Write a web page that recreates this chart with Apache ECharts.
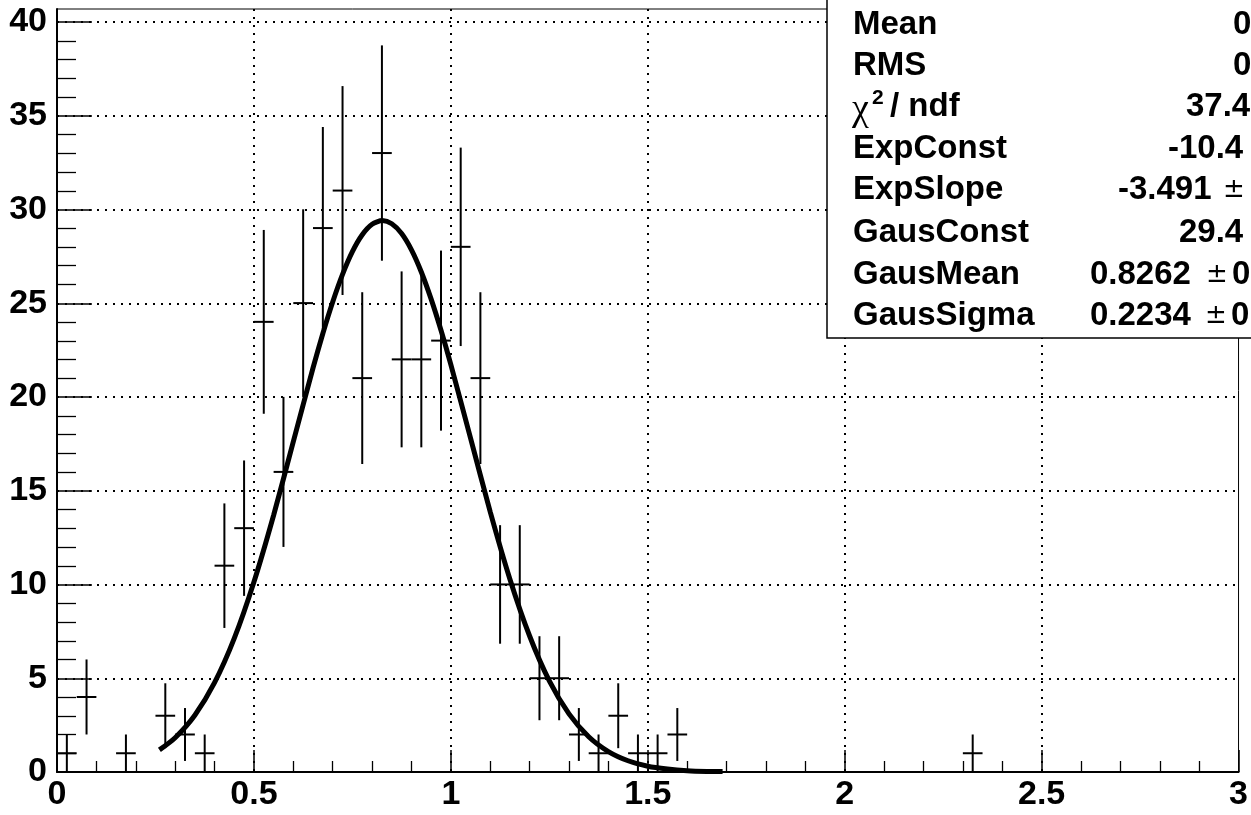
<!DOCTYPE html>
<html><head><meta charset="utf-8">
<script src="https://cdn.jsdelivr.net/npm/echarts@6/dist/echarts.min.js"></script>
<style>html,body{margin:0;padding:0;background:#fff;} #c{width:1251px;height:815px;}</style>
</head><body><div id="c"></div>
<script>
// ---- data ----
const binCenters = [0.025,0.075,0.175,0.275,0.325,0.375,0.425,0.475,0.525,0.575,0.625,0.675,0.725,0.775,0.825,0.875,0.925,0.975,1.025,1.075,1.125,1.175,1.225,1.275,1.325,1.375,1.425,1.475,1.525,1.575,2.325];
const counts = [1,4,1,3,2,1,11,13,24,16,25,29,31,21,33,22,22,23,28,21,10,10,5,5,2,1,3,1,1,2,1];
const errors = [1,2,1,1.73,1.41,1,3.32,3.61,4.90,4.00,5.00,5.39,5.57,4.58,5.74,4.69,4.69,4.80,5.29,4.58,3.16,3.16,2.24,2.24,1.41,1,1.73,1,1,1.41,1];
const halfBinWidth = 0.025;
const fitX = [0.26,0.30,0.35,0.40,0.45,0.50,0.55,0.60,0.65,0.675,0.70,0.725,0.75,0.775,0.80,0.8262,0.85,0.875,0.90,0.925,0.95,0.975,1.00,1.05,1.10,1.15,1.20,1.25,1.30,1.35,1.40,1.45,1.50,1.55,1.60,1.65,1.69];
const fitY = [1.18,1.83,3.03,4.76,7.12,10.13,13.69,17.61,21.54,23.38,25.06,26.53,27.74,28.64,29.20,29.40,29.23,28.71,27.84,26.66,25.21,23.55,21.72,17.80,13.87,10.28,7.25,4.86,3.10,1.88,1.09,0.60,0.31,0.16,0.07,0.03,0.02];
const xRange = [0, 3];
const xStep = 0.5;
const yFrameMax = 40.68;
const yTickMax = 40;
const yStep = 5;
const statsLabels = ['Mean','RMS','CHI','ExpConst','ExpSlope','GausConst','GausMean','GausSigma'];
const statsValues = ['0','0','37.4','-10.4','-3.491','29.4','0.8262','0.2234'];
const statsPlusMinus = ['','','','','\u00b1','','\u00b1','\u00b1'];
const statsTrail = ['','','','','','','0','0'];

// ---- layout ----
const L = 57, R = 10, B = 43, TOP = 9, TOP2 = 22;
const labelFont = {fontFamily:'"Liberation Sans", Arial, sans-serif', fontWeight:'bold', fontSize:34, color:'#000'};
const dotted = {color:'#000', type:[2,6], width:2};

const rowY = [25,66,107,149,190,233,275,316];
const valX = [1233,1233,1186,1168,1118,1179,1090,1090];
const pmX = [0,0,0,0,1223,0,1206,1205];
const trailX = [0,0,0,0,0,0,1232,1231];
const boldFont = 'bold 33px "Liberation Sans", Arial, sans-serif';

const graphics = [{
  type:'rect', z:100, shape:{x:827, y:-5, width:440, height:343},
  style:{fill:'#fff', stroke:'#000', lineWidth:1.5}
}];
statsLabels.forEach((lab,i)=>{
  if (lab === 'CHI') {
    graphics.push({type:'text', z:101, x:852, y:rowY[i]+3, style:{text:'\u03c7', font:'normal 38px "Liberation Serif", serif', fill:'#000', verticalAlign:'middle', align:'left'}});
    graphics.push({type:'text', z:101, x:872, y:rowY[i]-9, style:{text:'2', font:'bold 21px "Liberation Sans", Arial, sans-serif', fill:'#000', verticalAlign:'middle', align:'left'}});
    graphics.push({type:'text', z:101, x:890, y:rowY[i], style:{text:'/ ndf', font:boldFont, fill:'#000', verticalAlign:'middle', align:'left'}});
  } else {
    graphics.push({type:'text', z:101, x:853, y:rowY[i], style:{text:lab, font:boldFont, fill:'#000', verticalAlign:'middle', align:'left'}});
  }
  graphics.push({type:'text', z:101, x:valX[i], y:rowY[i], style:{text:statsValues[i], font:boldFont, fill:'#000', verticalAlign:'middle', align:'left'}});
  if (statsPlusMinus[i]) graphics.push({type:'text', z:101, x:pmX[i], y:rowY[i], style:{text:statsPlusMinus[i], font:'normal 26px "DejaVu Sans", sans-serif', fill:'#000', verticalAlign:'middle', align:'left'}});
  if (statsTrail[i]) graphics.push({type:'text', z:101, x:trailX[i], y:rowY[i], style:{text:statsTrail[i], font:boldFont, fill:'#000', verticalAlign:'middle', align:'left'}});
});

const chart = echarts.init(document.getElementById('c'), null, {renderer:'canvas'});
chart.setOption({
  animation:false,
  backgroundColor:'#fff',
  grid:[
    {left:L, right:R, top:TOP, bottom:B, show:true, borderColor:'#000', borderWidth:1, backgroundColor:'transparent'},
    {left:L, right:R, top:TOP2, bottom:B, show:false}
  ],
  xAxis:[
    {gridIndex:0, type:'value', min:xRange[0], max:xRange[1], interval:xStep,
     axisLine:{show:true, onZero:false, lineStyle:{color:'#000', width:2}},
     axisTick:{show:true, inside:true, length:22, lineStyle:{color:'#000', width:1.5}},
     minorTick:{show:true, splitNumber:5, length:11, lineStyle:{color:'#000', width:1.3}},
     axisLabel:Object.assign({margin:6, formatter:v=>String(v)}, labelFont),
     splitLine:{show:true, showMinLine:false, showMaxLine:false, lineStyle:dotted}},
    {gridIndex:1, type:'value', min:xRange[0], max:xRange[1], show:false}
  ],
  yAxis:[
    {gridIndex:0, type:'value', min:0, max:yFrameMax,
     axisLine:{show:true, onZero:false, lineStyle:{color:'#000', width:2}},
     axisTick:{show:false}, axisLabel:{show:false}, splitLine:{show:false}},
    {gridIndex:1, type:'value', min:0, max:yTickMax, interval:yStep,
     axisLine:{show:false},
     axisTick:{show:true, inside:true, length:35, lineStyle:{color:'#000', width:1.5}},
     minorTick:{show:true, splitNumber:5, length:19, lineStyle:{color:'#000', width:1.3}},
     axisLabel:Object.assign({margin:10}, labelFont),
     splitLine:{show:true, showMinLine:false, lineStyle:dotted}}
  ],
  graphic:graphics,
  series:[
    {type:'custom', xAxisIndex:0, yAxisIndex:0, z:2, silent:true,
     data:binCenters.map((x,i)=>[x,counts[i],errors[i]]),
     renderItem:(params, api)=>{
       const x=api.value(0), y=api.value(1), e=api.value(2);
       const pL=api.coord([x-halfBinWidth,y]), pR=api.coord([x+halfBinWidth,y]);
       const pT=api.coord([x,y+e]), pB=api.coord([x,Math.max(0,y-e)]);
       return {type:'group', children:[
         {type:'line', shape:{x1:pL[0],y1:pL[1],x2:pR[0],y2:pR[1]}, style:{stroke:'#000', lineWidth:2}},
         {type:'line', shape:{x1:pT[0],y1:pT[1],x2:pB[0],y2:pB[1]}, style:{stroke:'#000', lineWidth:2}}
       ]};
     }},
    {type:'line', xAxisIndex:0, yAxisIndex:0, z:3, silent:true, showSymbol:false, smooth:0.25,
     data:fitX.map((x,i)=>[x,fitY[i]]),
     lineStyle:{color:'#000', width:5, cap:'butt'}}
  ]
});
</script></body></html>
